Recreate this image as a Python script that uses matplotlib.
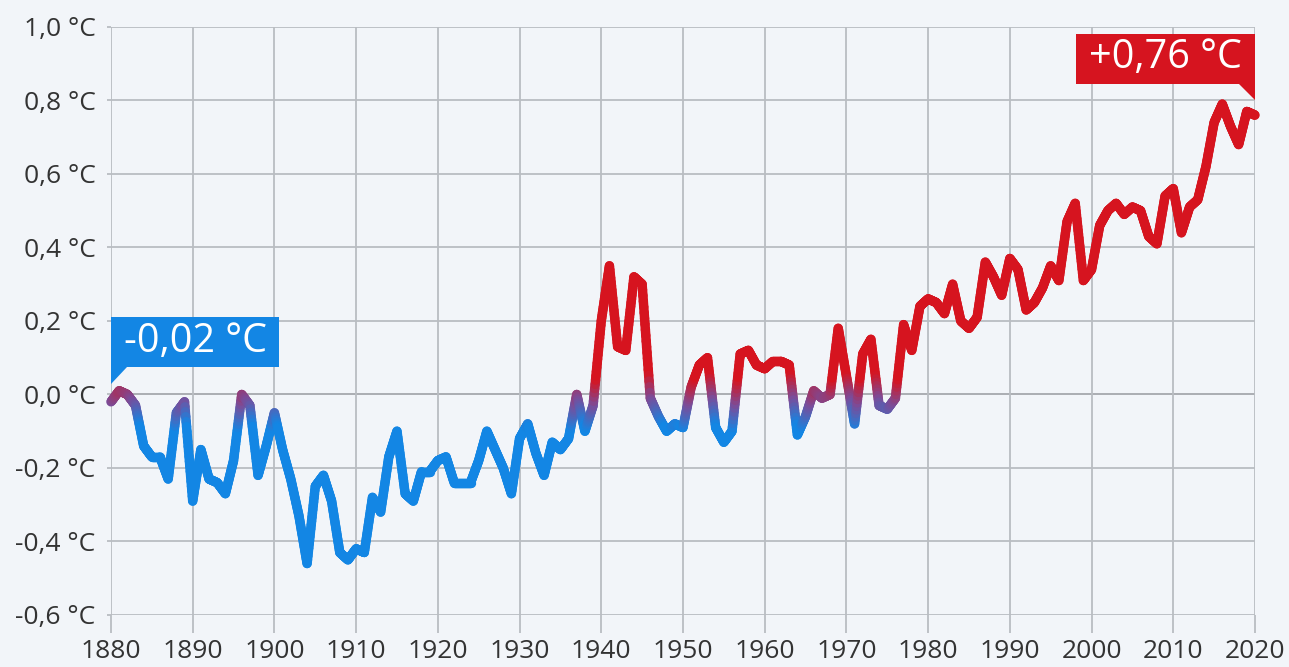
import numpy as np
import matplotlib
matplotlib.use("Agg")
import matplotlib.pyplot as plt
from matplotlib.collections import LineCollection
from matplotlib.colors import LinearSegmentedColormap, Normalize
from matplotlib.patches import Polygon

# temperature anomaly per year
years = list(range(1880, 2021))
temps = [
    -0.02, 0.01, 0.00, -0.03, -0.14, -0.17, -0.17, -0.23, -0.05, -0.02,   # 1880s
    -0.29, -0.15, -0.23, -0.24, -0.27, -0.18, 0.00, -0.03, -0.22, -0.14,  # 1890s
    -0.05, -0.15, -0.23, -0.33, -0.46, -0.25, -0.22, -0.29, -0.43, -0.45, # 1900s
    -0.42, -0.43, -0.28, -0.32, -0.17, -0.10, -0.27, -0.29, -0.21, -0.21, # 1910s
    -0.18, -0.17, -0.24, -0.24, -0.24, -0.18, -0.10, -0.15, -0.20, -0.27, # 1920s
    -0.12, -0.08, -0.16, -0.22, -0.13, -0.15, -0.12, 0.00, -0.10, -0.03,  # 1930s
    0.20, 0.35, 0.13, 0.12, 0.32, 0.30, -0.01, -0.06, -0.10, -0.08,       # 1940s
    -0.09, 0.02, 0.08, 0.10, -0.09, -0.13, -0.10, 0.11, 0.12, 0.08,       # 1950s
    0.07, 0.09, 0.09, 0.08, -0.11, -0.06, 0.01, -0.01, 0.00, 0.18,        # 1960s
    0.05, -0.08, 0.11, 0.15, -0.03, -0.04, -0.01, 0.19, 0.12, 0.24,       # 1970s
    0.26, 0.25, 0.22, 0.30, 0.20, 0.18, 0.21, 0.36, 0.32, 0.27,           # 1980s
    0.37, 0.34, 0.23, 0.25, 0.29, 0.35, 0.31, 0.47, 0.52, 0.31,           # 1990s
    0.34, 0.46, 0.50, 0.52, 0.49, 0.51, 0.50, 0.43, 0.41, 0.54,           # 2000s
    0.56, 0.44, 0.51, 0.53, 0.62, 0.74, 0.79, 0.73, 0.68, 0.77,           # 2010s
    0.76,
]
xticks = list(range(1880, 2021, 10))
yticks = [-0.6, -0.4, -0.2, 0.0, 0.2, 0.4, 0.6, 0.8, 1.0]

BLUE = "#1386e4"
RED = "#d6141f"
BG = "#f2f5f9"
GRID = "#b9bdc2"

plt.rcParams["font.family"] = ["Open Sans", "DejaVu Sans"]

fig = plt.figure(figsize=(12.89, 6.67), dpi=100, facecolor=BG)
ax = fig.add_axes([0.0861, 0.078, 0.8875, 0.8816], facecolor=BG)
ax.set_xlim(1880, 2020)
ax.set_ylim(-0.6, 1.0)

# grid
ax.set_xticks(xticks)
ax.set_yticks(yticks)
ax.grid(True, color=GRID, lw=1.3, zorder=0)
ax.axhline(0, color="#222222", lw=1.3, zorder=1)
for s in ax.spines.values():
    s.set_visible(False)
ax.set_xticklabels([str(y) for y in xticks])
ax.set_yticklabels([("%.1f" % v).replace(".", ",").replace("-0,0", "0,0") + " °C" for v in yticks])
ax.tick_params(axis="x", length=13, width=1.3, color=GRID, pad=4, labelsize=19, labelcolor="#333333")
ax.tick_params(axis="y", length=3, width=1.3, color=GRID, pad=8, labelsize=19, labelcolor="#333333")

# line coloured by value: blue below zero, red above, blended near zero
x = np.array(years, dtype=float)
y = np.array(temps)
n_sub = 20
segs, vals = [], []
for i in range(len(x) - 1):
    xs = np.linspace(x[i], x[i + 1], n_sub + 1)
    ys = np.linspace(y[i], y[i + 1], n_sub + 1)
    for j in range(n_sub):
        segs.append([(xs[j], ys[j]), (xs[j + 1], ys[j + 1])])
        vals.append(0.5 * (ys[j] + ys[j + 1]))
cmap = LinearSegmentedColormap.from_list("br", [BLUE, "#7a4d9a", RED])
lc = LineCollection(segs, cmap=cmap, norm=Normalize(-0.09, 0.05), linewidths=6.8,
                    capstyle="round", joinstyle="round", zorder=3)
lc.set_array(np.array(vals))
lc.set_clip_on(False)
ax.add_collection(lc)

# callout boxes
def label(v):
    return ("%+.2f" % v).replace(".", ",") + " °C"

x0, y0 = years[0], temps[0]
blue_box = Polygon([(x0, y0 + 0.048), (x0, y0 + 0.23), (x0 + 20.6, y0 + 0.23),
                    (x0 + 20.6, y0 + 0.094), (x0 + 2.0, y0 + 0.094)],
                   closed=True, facecolor=BLUE, edgecolor="none", zorder=5, clip_on=False)
ax.add_patch(blue_box)
ax.text(x0 + 10.3, y0 + 0.164, label(y0), color="white", fontsize=28.5,
        ha="center", va="center", zorder=6)

x1, y1 = years[-1], temps[-1]
red_box = Polygon([(x1, y1 + 0.04), (x1, y1 + 0.222), (x1 - 21.9, y1 + 0.222),
                   (x1 - 21.9, y1 + 0.086), (x1 - 2.0, y1 + 0.086)],
                  closed=True, facecolor=RED, edgecolor="none", zorder=5, clip_on=False)
ax.add_patch(red_box)
ax.text(x1 - 11.0, y1 + 0.156, label(y1), color="white", fontsize=28.5,
        ha="center", va="center", zorder=6)

fig.savefig("out.png", dpi=100, facecolor=BG)
